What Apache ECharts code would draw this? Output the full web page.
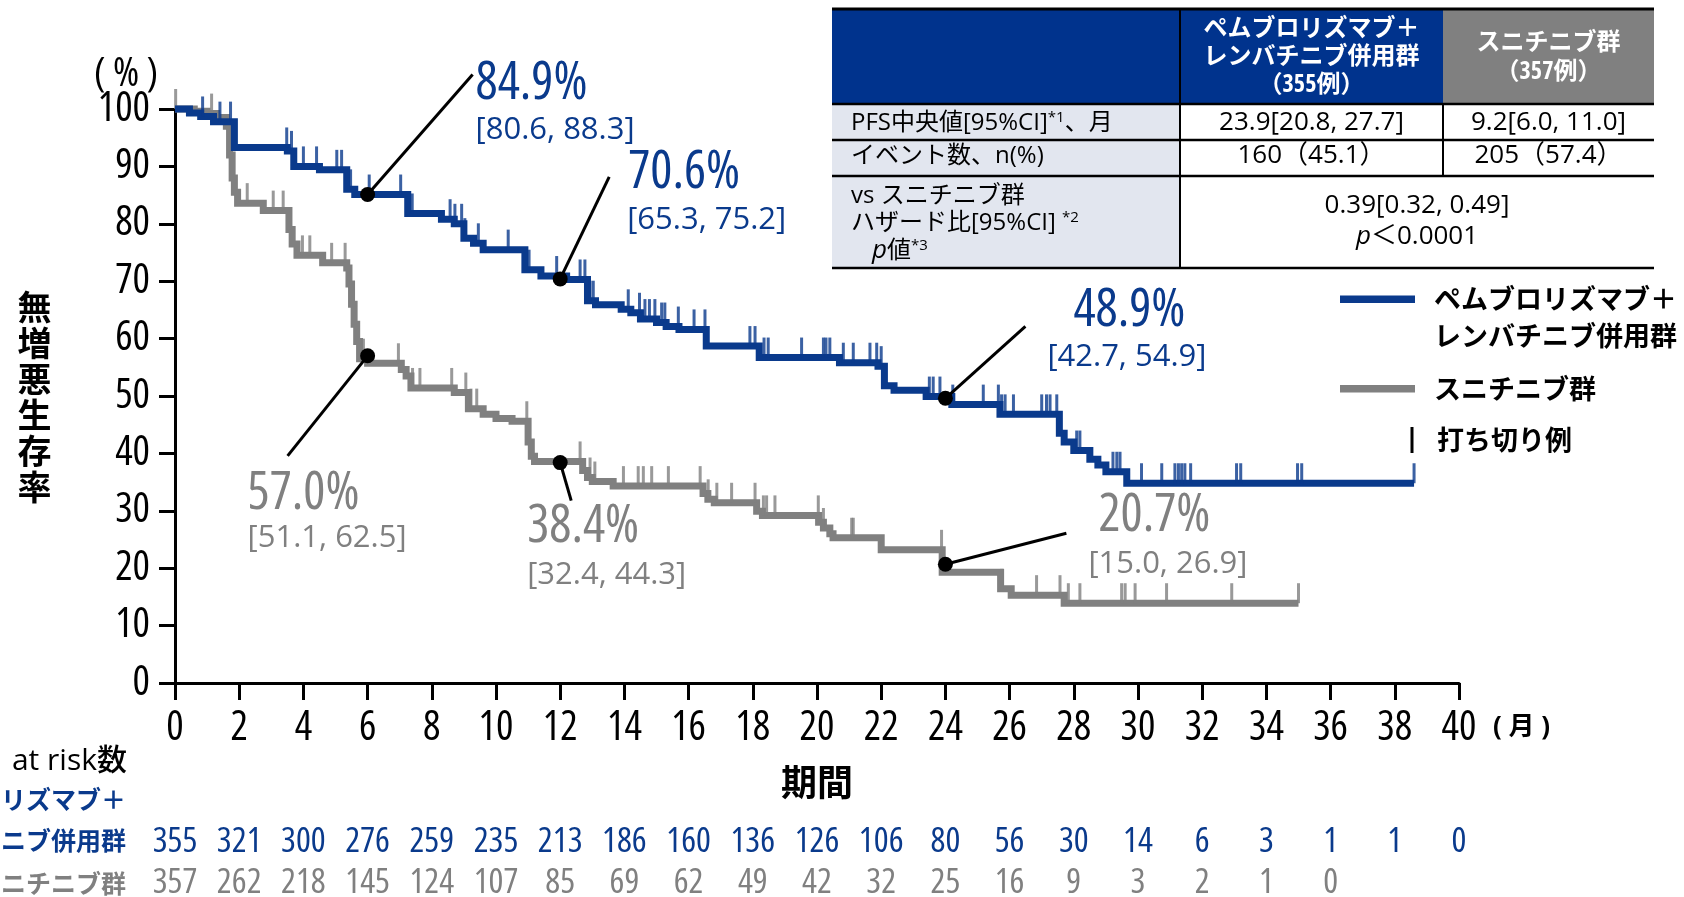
<!DOCTYPE html>
<html><head><meta charset="utf-8">
<script src="https://cdn.jsdelivr.net/npm/echarts@6.0.0/dist/echarts.min.js"></script>
<style>html,body{margin:0;padding:0;background:#fff}#c{width:1684px;height:897px}</style>
</head><body><div id="c"></div>
<script>
// ---------------- DATA ----------------
const xTicks = [0,2,4,6,8,10,12,14,16,18,20,22,24,26,28,30,32,34,36,38,40];
const seriesNames = ['ペムブロリズマブ＋レンバチニブ併用群', 'スニチニブ群'];
const blueSteps = [[0,100],[0.45,99.3],[0.8,98.7],[1.2,97.8],[1.85,93.3],[3.5,92.7],[3.7,90.0],[4.5,89.4],[5.35,86.0],[5.6,85.1],[7.25,81.8],[8.3,80.8],[8.7,80.0],[9.0,77.5],[9.3,76.6],[9.6,75.5],[10.9,72.0],[11.4,70.9],[12.2,70.3],[12.85,66.6],[13.1,65.9],[13.9,65.1],[14.2,64.5],[14.5,63.4],[15.0,62.8],[15.3,62.1],[15.7,61.6],[16.55,58.7],[18.2,56.7],[20.7,55.8],[21.9,55.2],[22.1,51.8],[22.4,51.0],[23.4,49.9],[24.2,48.5],[25.7,46.8],[27.55,43.5],[27.7,42.0],[28.0,40.5],[28.5,39.0],[28.75,38.0],[29.0,36.8],[29.65,34.8],[38.6,34.8]];
const graySteps = [[0,100],[0.6,99.6],[1.0,99.2],[1.3,98.5],[1.6,97.0],[1.7,92.0],[1.78,88.0],[1.85,85.5],[1.95,83.6],[2.75,82.3],[3.55,79.0],[3.65,76.5],[3.8,74.5],[4.6,73.2],[5.35,72.3],[5.42,69.5],[5.5,66.0],[5.58,62.5],[5.66,59.5],[5.75,56.5],[6.0,55.7],[7.05,54.6],[7.2,53.5],[7.35,51.4],[8.7,50.6],[9.14,47.8],[9.6,46.8],[10.0,46.1],[10.5,45.6],[11.0,42.0],[11.1,39.5],[11.2,38.6],[12.7,37.0],[12.85,35.8],[13.0,35.1],[13.65,34.3],[16.45,33.0],[16.6,32.0],[16.8,31.4],[18.12,29.9],[18.3,29.2],[20.05,28.0],[20.2,27.0],[20.4,26.0],[20.5,25.3],[22.0,23.2],[23.9,19.3],[25.72,16.4],[26.05,15.3],[27.7,13.9],[35.0,13.9]];
const blueCensor = [0.86,1.4,1.73,3.48,3.63,4.0,4.41,5.04,5.19,5.47,6.05,7.03,7.39,8.57,8.72,8.93,9.03,9.45,10.38,11.03,11.89,12.62,12.77,12.93,13.03,14.12,14.47,14.64,14.78,14.95,15.16,15.26,15.68,16.17,16.51,17.91,18.07,18.35,18.48,19.52,20.2,20.28,20.4,20.82,21.13,21.65,21.86,22.0,23.5,23.62,23.83,24.23,25.18,25.65,25.75,25.86,26.12,27.0,27.15,27.26,27.47,28.09,28.19,29.22,29.34,29.44,30.11,30.74,31.15,31.26,31.36,31.46,31.64,33.07,33.2,34.97,35.1,38.6];
const grayCensor = [0.02,1.14,2.25,3.06,3.37,3.58,3.97,4.2,4.88,5.3,5.87,6.96,7.4,7.63,8.62,9.06,9.22,9.4,10.96,12.62,12.93,13.08,13.97,14.43,14.59,14.85,15.37,16.36,16.61,16.88,17.34,18.07,18.33,18.43,18.69,20.04,20.2,21.08,21.13,23.88,25.75,26.84,27.57,27.83,28.19,29.49,29.6,29.91,30.89,32.92,35.0];
const blueAtRisk = [355,321,300,276,259,235,213,186,160,136,126,106,80,56,30,14,6,3,1,1,0];
const grayAtRisk = [357,262,218,145,124,107,85,69,62,49,42,32,25,16,9,3,2,1,0];
const blueMarks = [[6,85.1],[12,70.4],[24,49.6]];
const grayMarks = [[6,57.0],[12,38.4],[24,20.7]];
const blueMarkPct = ['84.9%','70.6%','48.9%'];
const blueMarkCI = ['[80.6, 88.3]','[65.3, 75.2]','[42.7, 54.9]'];
const grayMarkPct = ['57.0%','38.4%','20.7%'];
const grayMarkCI = ['[51.1, 62.5]','[32.4, 44.3]','[15.0, 26.9]'];
const tableHeadBlue = ['ペムブロリズマブ＋','レンバチニブ併用群','（355例）'];
const tableHeadGray = ['スニチニブ群','（357例）'];
const tableRowLabels = ['PFS中央値[95%CI]{sup|*1}、月','イベント数、n(%)'];
const tableBlue = ['23.9[20.8, 27.7]','160（45.1）'];
const tableGray = ['9.2[6.0, 11.0]','205（57.4）'];
const tableHRLabel = ['vs スニチニブ群','ハザード比[95%CI] {sup|*2}','{it|p}値{sup|*3}'];
const tableHR = ['0.39[0.32, 0.49]','{it|p}＜0.0001'];

// ---------------- STYLE ----------------
const BLUE = '#0a3a8c', GRAY = '#808080', NAVY = '#00338d', LIGHT = '#e2e6ef';
const OS = "'Open Sans','Noto Sans CJK JP',sans-serif";
const JP = "'Noto Sans CJK JP',sans-serif";
const COND = 'condensed';

function valueAt(steps, t) {
  let v = steps[0][1];
  for (const s of steps) { if (s[0] <= t + 1e-9) v = s[1]; else break; }
  return v;
}

const blueLayout = [
  {lx:105, ly:-120, px:108, py:-110, cx:108, cy:-64},
  {lx:49, ly:-102, px:68, py:-106, cx:67, cy:-59},
  {lx:80, ly:-72, px:128, py:-87, cx:102, cy:-41}
];
const grayLayout = [
  {lx:-80, ly:100, px:-120, py:138, cx:-120, cy:182},
  {lx:11, ly:38, px:-33, py:65, cx:-33, cy:113},
  {lx:121, ly:-31, px:153, py:-48, cx:143, cy:0}
];

function annoRender(layout, pct, ci, color) {
  return function (params, api) {
    const p = api.coord([api.value(0), api.value(1)]);
    const L = layout[params.dataIndex];
    return {
      type: 'group',
      children: [
        {type:'line', shape:{x1:p[0], y1:p[1], x2:p[0]+L.lx, y2:p[1]+L.ly}, style:{stroke:'#000', lineWidth:3}},
        {type:'circle', shape:{cx:p[0], cy:p[1], r:7.5}, style:{fill:'#000'}},
        {type:'text', x:p[0]+L.px, y:p[1]+L.py, style:{text:pct[params.dataIndex], fill:color, fontSize:52, fontWeight:COND, fontFamily:OS, align:'left', verticalAlign:'middle'}},
        {type:'text', x:p[0]+L.cx, y:p[1]+L.cy, style:{text:ci[params.dataIndex], fill:color, fontSize:31, fontFamily:OS, align:'left', verticalAlign:'middle'}}
      ]
    };
  };
}

const axisBase = { type: 'value', min: 0, max: 40, interval: 2 };

// table graphic
const T = {x0:832, x1:1180, x2:1443, x3:1654, y0:9, y1:104, y2:140, y3:176, y4:268};
const g = [];
g.push({type:'rect', shape:{x:T.x0, y:T.y0, width:T.x1-T.x0, height:T.y1-T.y0}, style:{fill:NAVY}});
g.push({type:'rect', shape:{x:T.x1, y:T.y0, width:T.x2-T.x1, height:T.y1-T.y0}, style:{fill:NAVY}});
g.push({type:'rect', shape:{x:T.x2, y:T.y0, width:T.x3-T.x2, height:T.y1-T.y0}, style:{fill:GRAY}});
g.push({type:'rect', shape:{x:T.x0, y:T.y1, width:T.x1-T.x0, height:T.y4-T.y1}, style:{fill:LIGHT}});
[[T.y0,3],[T.y1,2.5],[T.y2,2.5],[T.y3,2.5],[T.y4,2.5]].forEach(([y,w]) =>
  g.push({type:'line', shape:{x1:T.x0, y1:y, x2:T.x3, y2:y}, style:{stroke:'#000', lineWidth:w}}));
g.push({type:'line', shape:{x1:T.x1, y1:T.y0, x2:T.x1, y2:T.y4}, style:{stroke:'#000', lineWidth:2}});
g.push({type:'line', shape:{x1:T.x2, y1:T.y1, x2:T.x2, y2:T.y3}, style:{stroke:'#000', lineWidth:2}});
const supRich = {
  sup:{fontSize:15, fontFamily:OS, verticalAlign:'top', padding:[0,0,10,0]},
  it:{fontStyle:'italic', fontSize:26, fontFamily:OS}
};
g.push({type:'text', x:(T.x1+T.x2)/2, y:57, style:{text:tableHeadBlue.join('\n'), fill:'#fff', fontSize:24, fontWeight:'bold '+COND, fontFamily:OS, lineHeight:28, align:'center', verticalAlign:'middle'}});
g.push({type:'text', x:(T.x2+T.x3)/2, y:57.5, style:{text:tableHeadGray.join('\n'), fill:'#fff', fontSize:24, fontWeight:'bold '+COND, fontFamily:OS, lineHeight:29, align:'center', verticalAlign:'middle'}});
const rowY = [123, 156];
tableRowLabels.forEach((s,i) => {
  g.push({type:'text', x:851, y:rowY[i], style:{text:s, rich:supRich, fill:'#000', fontSize:24, fontFamily:OS, align:'left', verticalAlign:'middle'}});
  g.push({type:'text', x:(T.x1+T.x2)/2, y:rowY[i], style:{text:tableBlue[i], fill:'#000', fontSize:26, fontFamily:OS, align:'center', verticalAlign:'middle'}});
  g.push({type:'text', x:(T.x2+T.x3)/2, y:rowY[i], style:{text:tableGray[i], fill:'#000', fontSize:26, fontFamily:OS, align:'center', verticalAlign:'middle'}});
});
const hrY = [196, 223, 251], hrX = [851, 851, 872];
tableHRLabel.forEach((s,i) => g.push({type:'text', x:hrX[i], y:hrY[i], style:{text:s, rich:supRich, fill:'#000', fontSize:24, fontFamily:OS, align:'left', verticalAlign:'middle'}}));
const hrVY = [205.5, 237];
tableHR.forEach((s,i) => g.push({type:'text', x:(T.x1+T.x3)/2, y:hrVY[i], style:{text:s, rich:supRich, fill:'#000', fontSize:26, fontFamily:OS, align:'center', verticalAlign:'middle'}}));

// legend
g.push({type:'rect', shape:{x:1340, y:295.5, width:75, height:7.5}, style:{fill:BLUE}});
g.push({type:'text', x:1434, y:317.5, style:{text:'ペムブロリズマブ＋\nレンバチニブ併用群', fill:'#000', fontSize:27, fontWeight:'bold', fontFamily:JP, lineHeight:37, align:'left', verticalAlign:'middle'}});
g.push({type:'rect', shape:{x:1340, y:385, width:75, height:7.5}, style:{fill:GRAY}});
g.push({type:'text', x:1434, y:389, style:{text:seriesNames[1], fill:'#000', fontSize:27, fontWeight:'bold', fontFamily:JP, align:'left', verticalAlign:'middle'}});
g.push({type:'rect', shape:{x:1410.5, y:427, width:3, height:26}, style:{fill:'#000'}});
g.push({type:'text', x:1437, y:440, style:{text:'打ち切り例', fill:'#000', fontSize:27, fontWeight:'bold', fontFamily:JP, align:'left', verticalAlign:'middle'}});

// axis extras
g.push({type:'text', x:126, y:75, style:{text:'( % )', fill:'#000', fontSize:40, fontWeight:COND, fontFamily:OS, align:'center', verticalAlign:'middle'}});
g.push({type:'text', x:1493, y:728, style:{text:'( 月 )', fill:'#000', fontSize:26, fontWeight:'bold', fontFamily:OS, align:'left', verticalAlign:'middle'}});
g.push({type:'text', x:34.5, y:397, style:{text:'無\n増\n悪\n生\n存\n率', fill:'#000', fontSize:34, fontWeight:'bold', fontFamily:JP, lineHeight:36, align:'center', verticalAlign:'middle'}});

// at risk labels
g.push({type:'text', x:127, y:761, style:{text:'at risk数', fill:'#000', fontSize:30, fontWeight:'500', fontFamily:OS, align:'right', verticalAlign:'middle'}});
g.push({type:'text', x:126, y:820, style:{text:'ペムブロリズマブ＋\nレンバチニブ併用群', fill:BLUE, fontSize:25, fontWeight:'bold', fontFamily:JP, lineHeight:41, align:'right', verticalAlign:'middle'}});
g.push({type:'text', x:126, y:883, style:{text:seriesNames[1], fill:GRAY, fontSize:25, fontWeight:'bold', fontFamily:JP, align:'right', verticalAlign:'middle'}});

const chart = echarts.init(document.getElementById('c'), null, {renderer:'canvas'});
chart.setOption({
  animation: false,
  backgroundColor: '#fff',
  grid: {left:175, right:225, top:109, bottom:214, containLabel:false, outerBoundsMode:'none'},
  xAxis: [
    Object.assign({}, axisBase, {
      name:'期間', nameLocation:'middle', nameGap:81,
      nameTextStyle:{fontSize:36, fontWeight:'bold', fontFamily:JP, color:'#000'},
      axisLine:{show:true, onZero:false, lineStyle:{color:'#000', width:3}},
      axisTick:{show:true, length:17, lineStyle:{color:'#000', width:3}},
      axisLabel:{fontSize:41, fontWeight:COND, fontFamily:OS, color:'#000', margin:25, showMinLabel:true, showMaxLabel:true},
      splitLine:{show:false}
    }),
    Object.assign({}, axisBase, {
      position:'bottom', offset:142,
      axisLine:{show:false}, axisTick:{show:false}, splitLine:{show:false},
      axisLabel:{fontSize:35, fontWeight:COND, fontFamily:OS, color:BLUE, margin:0, showMinLabel:true, showMaxLabel:true,
        formatter: v => { const i = xTicks.indexOf(v); return (i >= 0 && i < blueAtRisk.length) ? String(blueAtRisk[i]) : ''; }}
    }),
    Object.assign({}, axisBase, {
      position:'bottom', offset:182.5,
      axisLine:{show:false}, axisTick:{show:false}, splitLine:{show:false},
      axisLabel:{fontSize:35, fontWeight:COND, fontFamily:OS, color:GRAY, margin:0, showMinLabel:true, showMaxLabel:true,
        formatter: v => { const i = xTicks.indexOf(v); return (i >= 0 && i < grayAtRisk.length) ? String(grayAtRisk[i]) : ''; }}
    })
  ],
  yAxis: {
    type:'value', min:0, max:100, interval:10,
    axisLine:{show:true, lineStyle:{color:'#000', width:3}},
    axisTick:{show:true, length:16, lineStyle:{color:'#000', width:3}},
    axisLabel:{fontSize:41, fontWeight:COND, fontFamily:OS, color:'#000', margin:25},
    splitLine:{show:false}
  },
  graphic: g,
  series: [
    {name:seriesNames[1], type:'line', step:'end', data:graySteps, showSymbol:false, symbol:'none', clip:false,
     lineStyle:{color:GRAY, width:7, join:'miter'}, z:3},
    {name:seriesNames[1]+'打ち切り', type:'scatter', data:grayCensor.map(t => [t, valueAt(graySteps, t)]),
     symbol:'rect', symbolSize:[3,20], symbolOffset:[0,-10], itemStyle:{color:GRAY}, z:3, silent:true},
    {name:seriesNames[0], type:'line', step:'end', data:blueSteps, showSymbol:false, symbol:'none', clip:false,
     lineStyle:{color:BLUE, width:7, join:'miter'}, z:4},
    {name:seriesNames[0]+'打ち切り', type:'scatter', data:blueCensor.map(t => [t, valueAt(blueSteps, t)]),
     symbol:'rect', symbolSize:[3,20], symbolOffset:[0,-10], itemStyle:{color:BLUE}, z:4, silent:true},
    {type:'custom', data:blueMarks, clip:false, z:6, silent:true, encode:{x:0, y:1},
     renderItem: annoRender(blueLayout, blueMarkPct, blueMarkCI, BLUE)},
    {type:'custom', data:grayMarks, clip:false, z:6, silent:true, encode:{x:0, y:1},
     renderItem: annoRender(grayLayout, grayMarkPct, grayMarkCI, GRAY)}
  ]
});
</script>
</body></html>
